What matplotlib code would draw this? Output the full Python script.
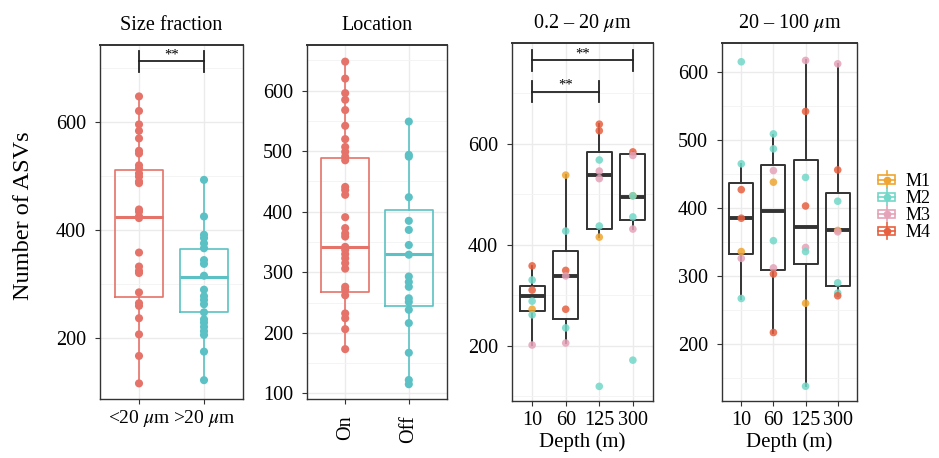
import matplotlib
matplotlib.use('Agg')
import matplotlib.pyplot as plt
from matplotlib.lines import Line2D
from matplotlib.patches import Rectangle
from matplotlib.legend_handler import HandlerBase

plt.rcParams['font.family'] = ['Liberation Serif', 'DejaVu Serif']
plt.rcParams['mathtext.fontset'] = 'stix'

# ---------------- data ----------------
size_labels = ['<20 $\\mu$m', '>20 $\\mu$m']
size_small = [648, 621, 596, 584, 570, 547, 542, 520, 514, 505, 499, 490, 487, 438, 434,
              425, 422, 358, 332, 324, 320, 284, 264, 259, 236, 206, 166, 115]
size_large = [493, 425, 391, 385, 375, 366, 344, 337, 315, 289, 277, 270, 262, 247, 234,
              228, 220, 212, 205, 174, 121]
size_q1 = [276, 247]
size_med = [424, 313]
size_q3 = [511, 365]
size_lo = [115, 121]
size_hi = [648, 493]

loc_labels = ['On', 'Off']
loc_on = [648, 620, 596, 585, 568, 542, 520, 507, 499, 491, 485, 441, 436, 428, 391, 373,
          364, 359, 342, 337, 330, 323, 315, 306, 276, 271, 262, 232, 224, 206, 173]
loc_off = [549, 494, 491, 424, 385, 370, 345, 329, 293, 284, 276, 257, 251, 238, 216, 167,
           122, 115]
loc_q1 = [267, 245]
loc_med = [342, 330]
loc_q3 = [488, 403]
loc_lo = [173, 115]
loc_hi = [648, 549]

depths = ['10', '60', '125', '300']
stations = ['M1', 'M2', 'M3', 'M4']

# 0.2 - 20 um
fine_depth = ['10'] * 7 + ['60'] * 7 + ['125'] * 8 + ['300'] * 7
fine_station = ['M4', 'M2', 'M4', 'M2', 'M1', 'M2', 'M3',
                'M1', 'M2', 'M4', 'M3', 'M4', 'M2', 'M3',
                'M4', 'M4', 'M2', 'M3', 'M3', 'M2', 'M1', 'M2',
                'M4', 'M3', 'M1', 'M2', 'M2', 'M3', 'M2']
fine_value = [358, 330, 310, 288, 272, 261, 201,
              538, 427, 349, 338, 272, 235, 205,
              639, 626, 568, 546, 531, 437, 415, 119,
              584, 577, 497, 497, 455, 431, 171]
fine_q1 = [268, 253, 431, 448.5]
fine_med = [299, 337, 538.5, 495]
fine_q3 = [318, 388, 583, 579]
fine_lo = [201, 205, 415, 431]
fine_hi = [358, 538, 639, 584]

# 20 - 100 um
coarse_depth = ['10'] * 7 + ['60'] * 8 + ['125'] * 8 + ['300'] * 8
coarse_station = ['M2', 'M2', 'M4', 'M4', 'M1', 'M3', 'M2',
                  'M2', 'M2', 'M3', 'M1', 'M2', 'M3', 'M4', 'M4',
                  'M3', 'M4', 'M2', 'M4', 'M3', 'M2', 'M1', 'M2',
                  'M3', 'M4', 'M2', 'M1', 'M3', 'M2', 'M2', 'M4']
coarse_value = [615, 465, 427, 385, 336, 326, 267,
                509, 487, 455, 438, 352, 312, 303, 217,
                617, 542, 445, 403, 342, 336, 260, 138,
                612, 456, 410, 367, 365, 290, 275, 271]
coarse_q1 = [332, 309, 317, 286]
coarse_med = [385, 396, 372, 367]
coarse_q3 = [437, 463, 470, 422]
coarse_lo = [266, 217, 138, 271]
coarse_hi = [465, 508, 617, 612]

# ---------------- style ----------------
pair_colors = ['#E5736A', '#5BC1C4']
station_colors = {'M1': '#EFA531', 'M2': '#72D8C8', 'M3': '#E4A3B8', 'M4': '#E7603F'}
frame_c = '#333333'
W, H = 939, 458
fig = plt.figure(figsize=(W / 100, H / 100), dpi=100)


def add_ax(l, t, r, b):
    return fig.add_axes([l / W, 1 - b / H, (r - l) / W, (b - t) / H])


def style(ax, n, ylim, major, minor, labels, title, xpad=3, xsize=14.5):
    ax.set_xlim(0.4, n + 0.6)
    ax.set_ylim(*ylim)
    ax.set_xticks(range(1, n + 1))
    ax.set_xticklabels(labels)
    ax.set_yticks(major)
    ax.set_yticks(minor, minor=True)
    ax.grid(which='major', color='#EBEBEB', lw=1.0)
    ax.grid(which='minor', axis='y', color='#F3F3F3', lw=0.6)
    ax.set_axisbelow(True)
    for s in ax.spines.values():
        s.set_color(frame_c)
        s.set_linewidth(1.0)
    ax.spines['top'].set_linewidth(1.4)
    ax.tick_params(which='major', length=3.5, width=0.8, color=frame_c, labelsize=14.5,
                   labelcolor='black')
    ax.tick_params(axis='y', which='major', pad=6.5)
    ax.tick_params(axis='x', which='major', pad=xpad, labelsize=xsize)
    ax.tick_params(which='minor', length=0)
    ax.set_title(title, fontsize=14.5, pad=11)


def stats(q1, med, q3, lo, hi):
    return [dict(q1=a, med=b, q3=c, whislo=d, whishi=e) for a, b, c, d, e in zip(q1, med, q3, lo, hi)]


def draw_box(ax, st, pos, color, lw, mlw):
    ax.bxp([st], positions=[pos], widths=0.75, showfliers=False, showcaps=False,
           boxprops=dict(color=color, lw=lw), medianprops=dict(color=color, lw=mlw),
           whiskerprops=dict(color=color, lw=lw), manage_ticks=False, zorder=2)


def bracket(ax, x1, x2, y, half):
    ax.plot([x1, x2], [y, y], color='#222222', lw=1.3, zorder=4)
    ax.plot([x1, x1], [y - half, y + half], color='#222222', lw=1.3, zorder=4)
    ax.plot([x2, x2], [y - half, y + half], color='#222222', lw=1.3, zorder=4)
    ax.text((x1 + x2) / 2, y, '**', ha='center', va='bottom', fontsize=10.5, zorder=4)


# Panel 1: size fraction
ax1 = add_ax(100, 45, 243, 399)
style(ax1, 2, (86, 743.5), [200, 400, 600], [300, 500, 700], size_labels, 'Size fraction',
      xsize=14)
for i, (vals, st) in enumerate(zip([size_small, size_large],
                                   stats(size_q1, size_med, size_q3, size_lo, size_hi))):
    draw_box(ax1, st, i + 1, pair_colors[i], 1.2, 2.2)
    ax1.scatter([i + 1] * len(vals), vals, s=34, color=pair_colors[i], edgecolors='none', zorder=3)
bracket(ax1, 1, 2, 713, 20)

# Panel 2: location
ax2 = add_ax(307, 45, 447, 399)
style(ax2, 2, (90.6, 675.5), [100, 200, 300, 400, 500, 600], [150, 250, 350, 450, 550, 650],
      loc_labels, 'Location', xpad=8)
for lab in ax2.get_xticklabels():
    lab.set_rotation(90)
    lab.set_va('top')
for i, (vals, st) in enumerate(zip([loc_on, loc_off],
                                   stats(loc_q1, loc_med, loc_q3, loc_lo, loc_hi))):
    draw_box(ax2, st, i + 1, pair_colors[i], 1.2, 2.2)
    ax2.scatter([i + 1] * len(vals), vals, s=34, color=pair_colors[i], edgecolors='none', zorder=3)


def depth_panel(ax, dep, sta, val, st_list, ylim, major, minor, title):
    style(ax, 4, ylim, major, minor, depths, title, xpad=4)
    ax.set_xlabel('Depth (m)', fontsize=15, labelpad=1)
    for i, st in enumerate(st_list):
        draw_box(ax, st, i + 1, frame_c, 1.4, 2.8)
    xs = [depths.index(d) + 1 for d in dep]
    cs = [station_colors[s] for s in sta]
    ax.scatter(xs, val, s=30, c=cs, alpha=0.85, edgecolors='none', zorder=3)


ax3 = add_ax(512, 43, 653, 401)
depth_panel(ax3, fine_depth, fine_station, fine_value,
            stats(fine_q1, fine_med, fine_q3, fine_lo, fine_hi),
            (90, 800), [200, 400, 600], [100, 300, 500, 700], '0.2 – 20 $\\mu$m')
bracket(ax3, 1, 4, 766, 21)
bracket(ax3, 1, 3, 703, 21)

ax4 = add_ax(722, 43, 857, 401)
depth_panel(ax4, coarse_depth, coarse_station, coarse_value,
            stats(coarse_q1, coarse_med, coarse_q3, coarse_lo, coarse_hi),
            (116.3, 642.6), [200, 300, 400, 500, 600], [150, 250, 350, 450, 550],
            '20 – 100 $\\mu$m')

fig.text(24 / W, 1 - 216 / H, 'Number of ASVs', rotation=90, ha='center', va='center',
         fontsize=17.5)


class BoxKey(HandlerBase):
    def create_artists(self, legend, orig_handle, xdescent, ydescent, width, height,
                       fontsize, trans):
        c = orig_handle.get_color()
        cx = -xdescent + width / 2
        cy = -ydescent + height / 2
        bw, bh = width * 0.85, height * 0.6
        rect = Rectangle((cx - bw / 2, cy - bh / 2), bw, bh, fill=False, ec=c, lw=1.2,
                         transform=trans)
        med = Line2D([cx - bw / 2, cx + bw / 2], [cy, cy], color=c, lw=1.2, transform=trans)
        w1 = Line2D([cx, cx], [cy - bh / 2 - height * 0.3, cy - bh / 2], color=c, lw=1.2,
                    transform=trans)
        w2 = Line2D([cx, cx], [cy + bh / 2, cy + bh / 2 + height * 0.3], color=c, lw=1.2,
                    transform=trans)
        dot = Line2D([cx], [cy], marker='o', ms=4.5, color=c, ls='none', transform=trans)
        return [rect, med, w1, w2, dot]


handles = [Line2D([], [], color=station_colors[s]) for s in stations]
fig.legend(handles, stations, loc='center left', bbox_to_anchor=(877 / W, 1 - 207 / H),
           frameon=False, fontsize=13, handler_map={Line2D: BoxKey()}, handlelength=1.1,
           handleheight=0.8, handletextpad=0.5, labelspacing=0.0, borderpad=0,
           borderaxespad=0)

fig.savefig('out.png', dpi=100)
